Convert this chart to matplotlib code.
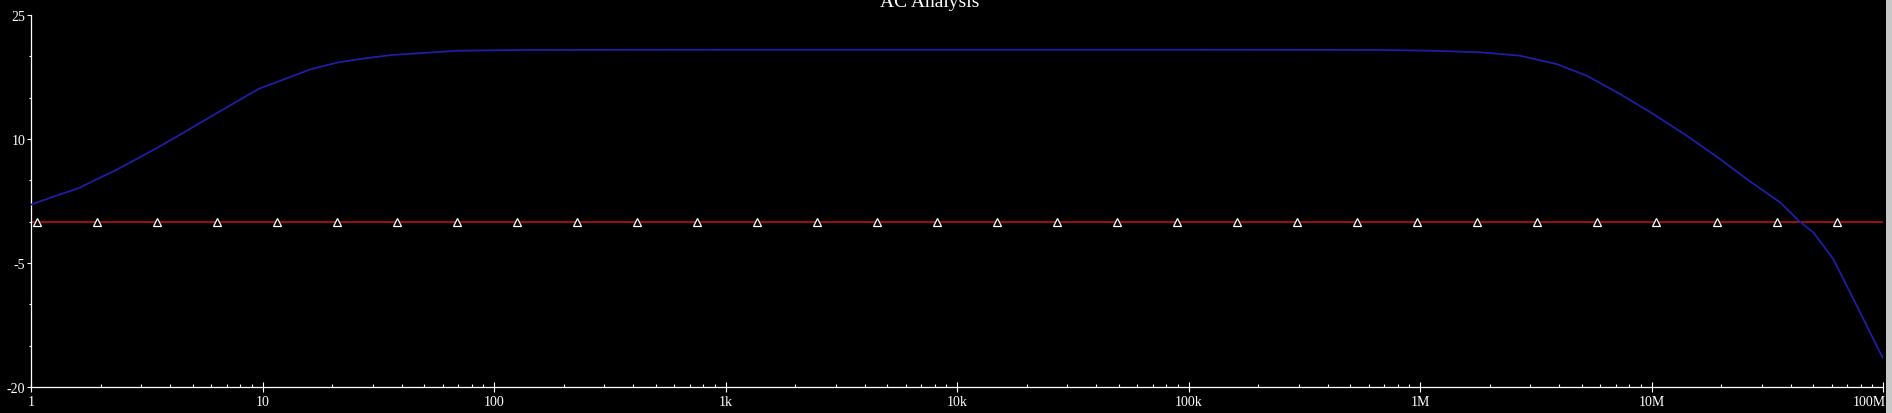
import matplotlib
matplotlib.use("Agg")
import matplotlib.pyplot as plt
from matplotlib.patches import Rectangle
from matplotlib.ticker import FixedLocator, NullFormatter
from matplotlib.transforms import ScaledTranslation

# ---- data -------------------------------------------------------------
gain_freq = [1, 1.23, 1.6, 2.38, 3.44, 4.33, 5.28, 6.44, 7.87, 9.6, 12.5,
             16.3, 21.3, 27.7, 36.1, 70.2, 136, 1e3, 1e4, 1e5, 6.71e5,
             1.104e6, 1.816e6, 2.70e6, 3.89e6, 5.25e6, 7.31e6, 1.019e7,
             1.419e7, 1.977e7, 2.576e7, 3.59e7, 4.375e7, 5.0e7, 6.10e7,
             7.45e7, 9.70e7, 1e8]
gain_db = [2.06, 2.96, 4.04, 6.38, 8.8, 10.4, 11.82, 13.24, 14.64, 16.05,
           17.26, 18.47, 19.28, 19.76, 20.16, 20.68, 20.77, 20.8, 20.8,
           20.8, 20.77, 20.68, 20.49, 20.08, 19.07, 17.66, 15.44, 13.02,
           10.4, 7.58, 5.16, 2.34, 0.0, -1.29, -4.52, -9.35, -15.8, -16.5]

ref_freq = [1, 1e8]
ref_db = [0, 0]

marker_freq = [1.06, 1.93, 3.50, 6.36, 11.6, 21.0, 38.1, 69.2, 126, 228,
               415, 753, 1.37e3, 2.48e3, 4.51e3, 8.19e3, 1.49e4, 2.70e4,
               4.90e4, 8.90e4, 1.62e5, 2.94e5, 5.33e5, 9.68e5, 1.76e6,
               3.19e6, 5.80e6, 1.05e7, 1.91e7, 3.47e7, 6.30e7]
marker_db = [0] * len(marker_freq)

x_tick_values = [1, 10, 100, 1e3, 1e4, 1e5, 1e6, 1e7, 1e8]
x_tick_labels = ["1", "10", "100", "1k", "10k", "100k", "1M", "10M", "100M"]
y_tick_values = [25, 10, -5, -20]
y_tick_labels = ["25", "10", "-5", "-20"]
y_minor_values = [20, 15, 5, 0, -10, -15]
title = "AC Analysis"

# ---- figure -----------------------------------------------------------
W, H = 1892, 414
fig = plt.figure(figsize=(W / 100, H / 100), dpi=100, facecolor="black")
ax = fig.add_axes([31 / W, 1 - 388 / H, 1852 / W, 372 / H], facecolor="black")

ax.plot(ref_freq, ref_db, color="#c81414", lw=1.1, zorder=2)
ax.plot(marker_freq, marker_db, linestyle="none", marker="^", ms=5.5,
        mfc="black", mec="white", mew=0.9, zorder=3)
ax.plot(gain_freq, gain_db, color="#1e1ea6", lw=1.3, zorder=4)

ax.set_xscale("log")
ax.set_xlim(1, 1e8)
ax.set_ylim(-20, 25)

serif = "Liberation Serif"
ax.xaxis.set_major_locator(FixedLocator(x_tick_values))
ax.set_xticklabels(x_tick_labels, fontsize=10, color="white", family=serif)
minor_x = [m * 10 ** k for k in range(8) for m in range(2, 10)]
ax.xaxis.set_minor_locator(FixedLocator(minor_x))
ax.xaxis.set_minor_formatter(NullFormatter())
ax.set_yticks(y_tick_values)
ax.set_yticklabels(y_tick_labels, fontsize=10, color="white", family=serif)
ax.yaxis.set_minor_locator(FixedLocator(y_minor_values))

ax.tick_params(axis="x", which="major", direction="inout", length=7,
               width=0.8, color="white", pad=2)
ax.tick_params(axis="x", which="minor", direction="in", length=2.5,
               width=0.8, color="white")
ax.tick_params(axis="y", which="major", direction="out", length=3,
               width=0.8, color="white", pad=1)
ax.tick_params(axis="y", which="minor", direction="out", length=1.5,
               width=0.8, color="white")

last = ax.get_xticklabels()[-1]
last.set_ha("right")
last.set_transform(last.get_transform() + ScaledTranslation(3 / 100, 0, fig.dpi_scale_trans))

for s in ("top", "right"):
    ax.spines[s].set_visible(False)
for s in ("left", "bottom"):
    ax.spines[s].set_color("white")
    ax.spines[s].set_linewidth(0.9)

fig.text(930 / W, 1 - 7 / H, title, ha="center", va="baseline",
         fontsize=14, color="white", family=serif)

# window border strip on the right edge
fig.patches.append(Rectangle((1886 / W, 0), 6 / W, 1, transform=fig.transFigure,
                             facecolor="#c8c8c8", edgecolor="none"))

fig.savefig("out.png", dpi=100, facecolor="black")
